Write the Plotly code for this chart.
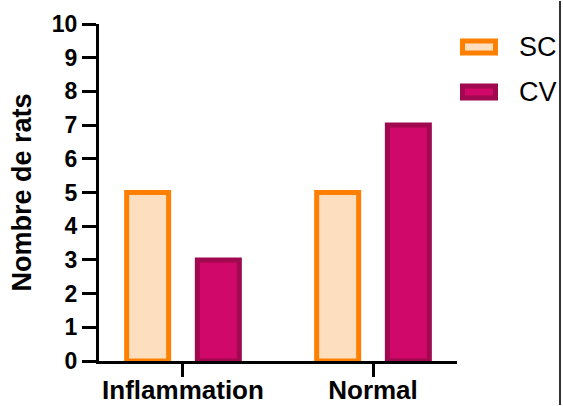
import plotly.graph_objects as go

categories = ["Inflammation", "Normal"]
sc_values = [5, 5]
cv_values = [3, 7]
y_ticks = list(range(0, 11))

FONT = "Liberation Sans, Arial, sans-serif"
SC_FILL, SC_LINE = "#FDDFC0", "#FF8000"
CV_FILL, CV_LINE = "#D0086A", "#A0084F"

L, R, T, B = 99, 106, 24, 45
W, H = 563, 406
pw, ph = W - L - R, H - T - B

def px_x(px):
    return (px - L) / pw

def px_y(py):
    return (H - B - py) / ph

fig = go.Figure()
fig.add_trace(go.Bar(
    x=[0, 1], y=sc_values, name="SC",
    width=0.221, offset=-0.2965,
    marker=dict(color=SC_FILL, line=dict(color=SC_LINE, width=5)),
    showlegend=False,
))
fig.add_trace(go.Bar(
    x=[0, 1], y=cv_values, name="CV",
    width=0.221, offset=0.0755,
    marker=dict(color=CV_FILL, line=dict(color=CV_LINE, width=5)),
    showlegend=False,
))

fig.update_layout(
    template="none",
    width=W, height=H,
    margin=dict(l=L, r=R, t=T, b=B, pad=0, autoexpand=False),
    paper_bgcolor="white", plot_bgcolor="white",
    barmode="overlay",
    font=dict(family=FONT, color="black"),
)
fig.update_xaxes(
    automargin=False,
    range=[-0.442, 1.442],
    tickmode="array", tickvals=[0, 1], ticktext=categories,
    tickfont=dict(size=26, family=FONT, weight="bold"),
    ticklabelstandoff=-9,
    showline=True, linecolor="black", linewidth=3,
    ticks="outside", ticklen=13, tickwidth=3, tickcolor="black",
    showgrid=False, zeroline=False,
)
fig.update_yaxes(
    automargin=False,
    range=[0, 10],
    tickmode="array", tickvals=y_ticks, ticktext=[str(v) for v in y_ticks],
    tickfont=dict(size=23, family=FONT, weight="bold"),
    showline=True, linecolor="black", linewidth=3,
    ticks="outside", ticklen=14, tickwidth=3, tickcolor="black",
    showgrid=False, zeroline=False,
    title=dict(text="Nombre de rats", font=dict(size=27, family=FONT, weight="bold"), standoff=13),
)

# legend drawn manually
legend = [("SC", SC_FILL, SC_LINE, 47), ("CV", CV_FILL, CV_LINE, 92)]
for name, fill, line, cy in legend:
    fig.add_shape(type="rect", xref="paper", yref="paper",
                  x0=px_x(462.5), x1=px_x(495.5), y0=px_y(cy + 6), y1=px_y(cy - 6),
                  fillcolor=fill, line=dict(color=line, width=5))
    fig.add_annotation(xref="paper", yref="paper", x=px_x(517), y=px_y(cy),
                       xanchor="left", yanchor="middle", showarrow=False,
                       text=name, font=dict(size=27, family=FONT, color="black"))

# right border line
fig.add_shape(type="line", xref="paper", yref="paper", layer="above",
              x0=px_x(560), x1=px_x(560), y0=px_y(405), y1=px_y(361),
              line=dict(color="#333333", width=2))
fig.add_shape(type="line", xref="paper", yref="paper", layer="above",
              x0=px_x(560), x1=px_x(560), y0=px_y(361), y1=px_y(1),
              line=dict(color="#333333", width=2))

fig.write_html(
    "out.html",
    config={"displayModeBar": False},
    post_script="document.body.style.margin='0';document.body.style.padding='0';document.body.style.overflow='hidden';",
)
